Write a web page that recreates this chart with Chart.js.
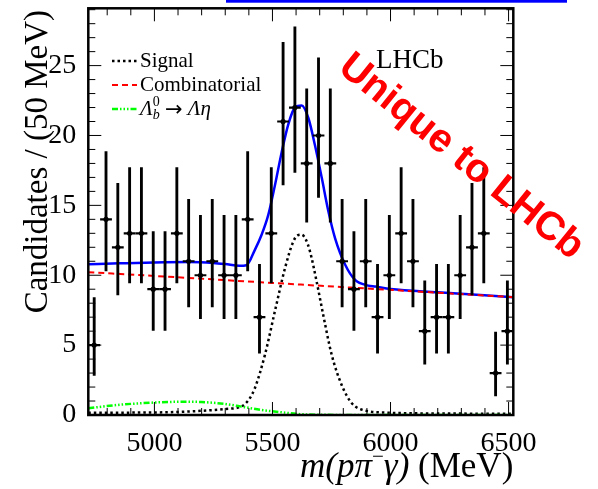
<!DOCTYPE html>
<html><head><meta charset="utf-8">
<script src="https://cdn.jsdelivr.net/npm/chart.js@4"></script>
<style>html,body{margin:0;padding:0;background:#fff;overflow:hidden}canvas{display:block}</style>
</head><body>
<canvas id="c" width="598" height="489" style="width:598px;height:489px"></canvas>
<script>
// ---- data ----
const binCenters = [4745,4795,4845,4895,4945,4995,5045,5095,5145,5195,5245,5295,5345,5395,5445,5495,5545,5595,5645,5695,5745,5795,5845,5895,5945,5995,6045,6095,6145,6195,6245,6295,6345,6395,6445,6495];
const counts     = [5,14,12,13,13,9,9,13,11,10,11,10,10,14,7,13,21,22,18,20,18,11,9,11,7,10,13,11,6,7,7,10,12,13,3,6];
const yLow       = [2.84,10.31,8.59,9.45,9.45,6.06,6.06,9.45,7.74,6.90,7.74,6.90,6.90,10.31,4.42,9.45,16.46,17.35,13.80,15.57,13.80,7.74,6.06,7.74,4.42,6.90,9.45,7.74,3.63,4.42,4.42,6.90,8.59,9.45,1.37,3.63];
const yHigh      = [8.40,18.84,16.57,17.71,17.71,13.12,13.12,17.71,15.43,14.28,15.43,14.28,14.28,18.84,10.78,17.71,26.66,27.77,23.33,25.56,23.33,15.43,13.12,15.43,10.78,14.28,17.71,15.43,9.60,10.78,10.78,14.28,16.57,17.71,5.94,9.60];

const totalX = [4720,4850,5000,5150,5250,5300,5360,5390,5425,5454,5482,5510,5539,5567,5595,5624,5652,5680,5709,5737,5765,5808,5850,5906,5935,6000,6200,6520];
const totalY = [10.78,10.85,10.92,10.95,10.88,10.8,10.68,10.72,11.8,12.9,14.3,16.4,18.8,20.8,22.0,22.15,21.25,19.3,16.95,14.56,12.66,10.75,9.67,9.26,9.19,9.02,8.78,8.43];

const signalX = [4720,4900,5060,5200,5300,5369,5400,5425,5468,5510,5553,5588,5606,5624,5640,5659,5687,5715,5751,5793,5836,5892,5985,6100,6300,6520];
const signalY = [0.16,0.17,0.2,0.3,0.43,0.62,1.1,1.9,4.3,7.4,10.5,12.4,12.85,12.9,12.6,11.7,9.55,7.16,4.3,2.15,0.84,0.32,0.17,0.12,0.1,0.08];

const combX = [4720,5000,5300,5600,5900,6200,6520];
const combY = [10.22,9.95,9.65,9.35,9.05,8.75,8.43];

const etaX = [4720,4845,4986,5128,5199,5298,5369,5454,5553,5609,5700,5800,6520];
const etaY = [0.48,0.72,0.88,0.95,0.93,0.79,0.6,0.36,0.17,0.07,0.02,0.0,0.0];

const xTicks = [5000,5500,6000,6500];
const yTicks = [0,5,10,15,20,25];
const X_MIN = 4720, X_MAX = 6520, Y_MIN = 0, Y_MAX = 29.1;
const BIN_HALF = 25;

const legendLabels = ['Signal', 'Combinatorial'];

// ---- helpers ----
const pts = (xs, ys) => xs.map((x, i) => ({x: x, y: ys[i]}));
const SERIF = '"Liberation Serif", "Times New Roman", serif';
const halfBinPx = (chart) => {
  const s = chart.scales.x;
  return Math.abs(s.getPixelForValue(X_MIN + BIN_HALF) - s.getPixelForValue(X_MIN));
};

function drawRich(ctx, segs, x, y, align) {
  let total = 0;
  const widths = segs.map(s => {
    if (s.stack) {
      let w = 0;
      s.stack.forEach(k => { ctx.font = k.font; w = Math.max(w, ctx.measureText(k.t).width); });
      return w;
    }
    ctx.font = s.font; return ctx.measureText(s.t).width;
  });
  widths.forEach(w => total += w);
  let cx = align === 'right' ? x - total : x;
  ctx.textAlign = 'left';
  segs.forEach((s, i) => {
    if (s.stack) {
      s.stack.forEach(k => { ctx.font = k.font; ctx.fillText(k.t, cx, y + (k.dy || 0)); });
    } else {
      ctx.font = s.font; ctx.fillText(s.t, cx, y + (s.dy || 0));
    }
    cx += widths[i];
  });
}

const decor = {
  id: 'decor',
  afterDatasetsDraw(chart) {
    const ctx = chart.ctx, a = chart.chartArea, xs = chart.scales.x, ys = chart.scales.y;
    ctx.save();
    ctx.strokeStyle = '#000'; ctx.lineWidth = 1;
    ctx.beginPath();
    for (let v = 4800; v <= X_MAX; v += 100) {
      const px = xs.getPixelForValue(v);
      const L = (v % 500 === 0) ? 13 : 7;
      ctx.moveTo(px, a.bottom); ctx.lineTo(px, a.bottom - L);
      ctx.moveTo(px, a.top); ctx.lineTo(px, a.top + L);
    }
    for (let v = 1; v < Y_MAX; v += 1) {
      const py = ys.getPixelForValue(v);
      const L = (v % 5 === 0) ? 13 : 7;
      ctx.moveTo(a.left, py); ctx.lineTo(a.left + L, py);
      ctx.moveTo(a.right, py); ctx.lineTo(a.right - L, py);
    }
    ctx.stroke();
    ctx.lineWidth = 2.5;
    ctx.strokeRect(a.left, a.top, a.right - a.left, a.bottom - a.top);
    ctx.restore();
  },
  afterDraw(chart) {
    const ctx = chart.ctx, a = chart.chartArea;
    ctx.save();
    ctx.fillStyle = '#000';
    ctx.textBaseline = 'alphabetic';
    // y title
    ctx.save();
    ctx.translate(47, 10);
    ctx.rotate(-Math.PI / 2);
    ctx.font = '33px ' + SERIF;
    ctx.textAlign = 'right';
    ctx.fillText('Candidates / (50 MeV)', 0, 0);
    ctx.restore();
    // x title
    const it = 'italic 35px ' + SERIF, rm = '35px ' + SERIF;
    drawRich(ctx, [
      {t: 'm(pπ', font: it},
      {t: '−', font: '21px ' + SERIF, dy: -14},
      {t: 'γ)', font: it},
      {t: ' (MeV)', font: rm}
    ], a.right, 477, 'right');
    // LHCb
    ctx.font = '27px ' + SERIF; ctx.textAlign = 'left';
    ctx.fillText('LHCb', 376, 68);
    // legend
    const lx0 = 112, lx1 = 137, tx = 140;
    const rows = [67, 91, 115];
    const styles = [
      {c: '#000', d: [2.5, 3], w: 2.5},
      {c: '#ff0000', d: [6, 4], w: 2},
      {c: '#00ff00', d: [6, 2, 1.5, 2, 1.5, 2, 1.5, 2], w: 2.5}
    ];
    rows.forEach((by, i) => {
      ctx.beginPath();
      ctx.setLineDash(styles[i].d);
      ctx.strokeStyle = styles[i].c; ctx.lineWidth = styles[i].w;
      ctx.moveTo(lx0, by - 6); ctx.lineTo(lx1, by - 6); ctx.stroke();
    });
    ctx.setLineDash([]);
    ctx.fillStyle = '#000';
    ctx.font = '21px ' + SERIF;
    ctx.fillText(legendLabels[0], tx, rows[0]);
    ctx.fillText(legendLabels[1], tx, rows[1]);
    const it21 = 'italic 21px ' + SERIF;
    drawRich(ctx, [
      {t: 'Λ', font: it21},
      {stack: [{t: '0', font: '14px ' + SERIF, dy: -9}, {t: 'b', font: 'italic 14px ' + SERIF, dy: 4}]},
      {t: ' ', font: '21px ' + SERIF},
      {t: '→', font: '21px "DejaVu Sans", sans-serif', dy: 1},
      {t: ' ', font: '21px ' + SERIF},
      {t: 'Λη', font: it21}
    ], tx, rows[2], 'left');
    // watermark
    ctx.save();
    ctx.translate(461, 157);
    ctx.rotate(39 * Math.PI / 180);
    ctx.font = 'bold 40px "Liberation Sans", Arial, sans-serif';
    ctx.fillStyle = '#ff0000';
    ctx.textAlign = 'center'; ctx.textBaseline = 'middle';
    ctx.fillText('Unique to LHCb', 0, 0);
    ctx.restore();
    // blue rule at the top
    ctx.fillStyle = '#0000ff';
    ctx.fillRect(226, 0, 341, 2.7);
    ctx.restore();
  }
};

const tickFont = {family: SERIF, size: 28};

new Chart(document.getElementById('c'), {
  type: 'scatter',
  data: {
    datasets: [
      {type: 'scatter', label: 'Data', data: pts(binCenters, counts),
       pointRadius: 2.6, pointBackgroundColor: '#000', pointBorderWidth: 0, order: 0},
      {type: 'scatter', label: 'Bin width', data: pts(binCenters, counts),
       pointStyle: 'line', pointRadius: (c) => halfBinPx(c.chart),
       pointBorderColor: '#000', pointBorderWidth: 2.2, order: 1},
      {type: 'bar', label: 'Poisson error', data: binCenters.map((x, i) => ({x: x, y: [yLow[i], yHigh[i]]})),
       backgroundColor: '#000', borderWidth: 0, barThickness: 2.2, order: 2},
      {type: 'line', label: 'Λb0 → Λη', data: pts(etaX, etaY), borderColor: '#00ff00', borderWidth: 2.5,
       borderDash: [6, 2, 1.5, 2, 1.5, 2, 1.5, 2], pointRadius: 0, fill: false, cubicInterpolationMode: 'monotone', order: 3},
      {type: 'line', label: 'Combinatorial', data: pts(combX, combY), borderColor: '#ff0000', borderWidth: 2,
       borderDash: [6, 4], pointRadius: 0, fill: false, cubicInterpolationMode: 'monotone', order: 4},
      {type: 'line', label: 'Signal', data: pts(signalX, signalY), borderColor: '#000', borderWidth: 2.5,
       borderDash: [2.5, 3], pointRadius: 0, fill: false, cubicInterpolationMode: 'monotone', order: 5},
      {type: 'line', label: 'Total fit', data: pts(totalX, totalY), borderColor: '#0000ff', borderWidth: 2.5,
       pointRadius: 0, fill: false, cubicInterpolationMode: 'monotone', order: 6}
    ]
  },
  options: {
    responsive: false,
    devicePixelRatio: 1,
    animation: false,
    events: [],
    layout: {padding: {left: 0, right: 84.7, top: 8.3, bottom: 0}},
    plugins: {legend: {display: false}, tooltip: {enabled: false}, title: {display: false}},
    scales: {
      x: {type: 'linear', min: X_MIN, max: X_MAX, offset: false,
          grid: {display: false}, border: {display: false},
          ticks: {font: tickFont, color: '#000', padding: 4, maxRotation: 0, autoSkip: false,
                  callback: (v) => String(v)},
          afterBuildTicks: (s) => { s.ticks = xTicks.map(v => ({value: v})); },
          afterFit: (s) => { s.height = 74; s.paddingLeft = 0; s.paddingRight = 0; s.paddingTop = 0; s.paddingBottom = 0; }},
      y: {type: 'linear', min: Y_MIN, max: Y_MAX,
          grid: {display: false}, border: {display: false},
          ticks: {font: tickFont, color: '#000', padding: 4, autoSkip: false,
                  callback: (v) => String(v)},
          afterBuildTicks: (s) => { s.ticks = yTicks.map(v => ({value: v})); },
          afterFit: (s) => { s.width = 88.3; s.paddingLeft = 0; s.paddingRight = 0; s.paddingTop = 0; s.paddingBottom = 0; }}
    }
  },
  plugins: [decor]
});
</script>
</body></html>
